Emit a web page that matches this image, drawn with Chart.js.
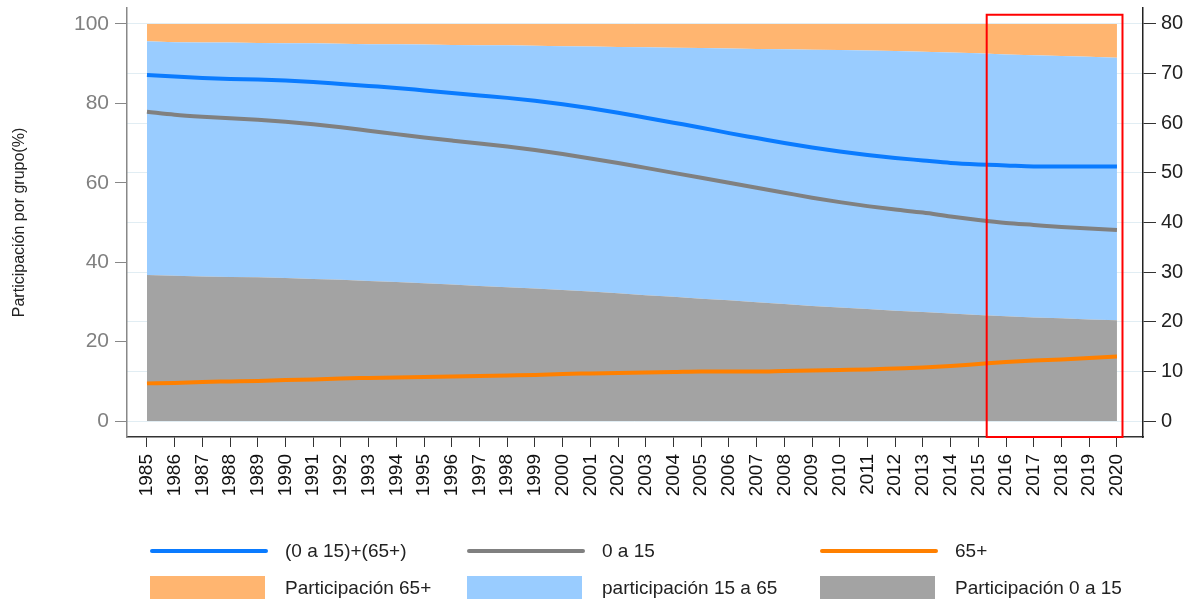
<!DOCTYPE html>
<html>
<head>
<meta charset="utf-8">
<script src="https://cdn.jsdelivr.net/npm/chart.js@4.4.1/dist/chart.umd.min.js"></script>
<style>
  html, body { margin: 0; padding: 0; background: #fff; }
  #wrap { position: relative; width: 1192px; height: 599px; overflow: hidden; font-family: "Liberation Sans", Arial, sans-serif; }
  #legend { position: absolute; left: 0; top: 0; width: 1192px; height: 599px; pointer-events: none; }
  .sw { position: absolute; }
  .lab { position: absolute; font-size: 19px; color: #222; white-space: nowrap; line-height: 22px; }
</style>
</head>
<body>
<div id="wrap">
  <canvas id="chart" width="1192" height="599"></canvas>
  <div id="legend"></div>
</div>
<script>
// years on the x axis
var years = [1985, 1986, 1987, 1988, 1989, 1990, 1991, 1992, 1993, 1994, 1995, 1996,
  1997, 1998, 1999, 2000, 2001, 2002, 2003, 2004, 2005, 2006, 2007, 2008,
  2009, 2010, 2011, 2012, 2013, 2014, 2015, 2016, 2017, 2018, 2019, 2020];

// shares of population (%), left axis, stacked areas
var share0a15 = [36.8, 36.6, 36.4, 36.3, 36.2, 36.0, 35.8, 35.6, 35.3, 35.0, 34.7, 34.4,
  34.0, 33.7, 33.4, 33.0, 32.6, 32.2, 31.7, 31.3, 30.8, 30.4, 29.9, 29.5,
  29.0, 28.6, 28.2, 27.8, 27.5, 27.1, 26.7, 26.4, 26.1, 25.9, 25.6, 25.4];
var share15a65 = [58.8, 58.8, 58.9, 59.0, 59.0, 59.1, 59.3, 59.4, 59.6, 59.9, 60.1, 60.3,
  60.6, 60.9, 61.1, 61.4, 61.7, 62.0, 62.4, 62.7, 63.1, 63.4, 63.8, 64.1,
  64.5, 64.8, 65.1, 65.4, 65.5, 65.7, 65.9, 65.9, 66.0, 66.0, 66.1, 66.1];
var share65 = [4.4, 4.6, 4.7, 4.7, 4.8, 4.9, 4.9, 5.0, 5.1, 5.1, 5.2, 5.3,
  5.4, 5.4, 5.5, 5.6, 5.7, 5.8, 5.9, 6.0, 6.1, 6.2, 6.3, 6.4,
  6.5, 6.6, 6.7, 6.8, 7.0, 7.2, 7.4, 7.7, 7.9, 8.1, 8.3, 8.5];

// dependency ratios, right axis
var depTotal = [69.7, 69.4, 69.1, 68.9, 68.8, 68.6, 68.3, 67.9, 67.5, 67.1, 66.6, 66.1,
  65.6, 65.1, 64.5, 63.8, 63.0, 62.1, 61.1, 60.1, 59.1, 58.0, 57.0, 56.0,
  55.1, 54.3, 53.6, 53.0, 52.5, 52.0, 51.7, 51.5, 51.3, 51.3, 51.3, 51.3];
var dep0a15 = [62.3, 61.7, 61.3, 61.0, 60.7, 60.3, 59.8, 59.2, 58.5, 57.8, 57.1, 56.5,
  55.9, 55.3, 54.6, 53.8, 52.9, 52.0, 51.0, 50.0, 49.0, 48.0, 47.0, 46.0,
  45.0, 44.1, 43.3, 42.6, 42.0, 41.2, 40.5, 39.9, 39.5, 39.1, 38.8, 38.5];
var dep65 = [7.6, 7.7, 7.9, 8.0, 8.1, 8.3, 8.4, 8.6, 8.7, 8.8, 8.9, 9.0,
  9.1, 9.2, 9.3, 9.5, 9.6, 9.7, 9.8, 9.9, 10.0, 10.0, 10.0, 10.1,
  10.2, 10.3, 10.4, 10.6, 10.8, 11.1, 11.5, 11.9, 12.2, 12.4, 12.7, 13.0];

var leftTicks = [0, 20, 40, 60, 80, 100];
var rightTicks = [0, 10, 20, 30, 40, 50, 60, 70, 80];

// highlighted period (red box)
var highlightFrom = 2015.3;
var highlightTo = 2020.2;
var highlightTop = 102.3;

var lineNames = ["(0 a 15)+(65+)", "0 a 15", "65+"];
var lineColors = ["#0a7bff", "#808080", "#ff8000"];
var areaNames = ["Participación 65+", "participación 15 a 65", "Participación 0 a 15"];
var areaColors = ["#ffb570", "#99ccff", "#a3a3a3"];

function pts(arr) {
  return arr.map(function (v, i) { return { x: years[i], y: v }; });
}

function areaSet(label, data, color, fill) {
  return {
    type: "line", label: label, data: pts(data), yAxisID: "y", stack: "shares",
    backgroundColor: color, borderColor: color, borderWidth: 0,
    pointRadius: 0, fill: fill, order: 2, tension: 0
  };
}

function lineSet(label, data, color) {
  return {
    type: "line", label: label, data: pts(data), yAxisID: "y1",
    borderColor: color, backgroundColor: color, borderWidth: 4,
    pointRadius: 0, fill: false, order: 0, cubicInterpolationMode: "monotone"
  };
}

var redBox = {
  id: "redBox",
  afterDatasetsDraw: function (chart) {
    var c = chart.ctx, sx = chart.scales.x, sy = chart.scales.y;
    var l = sx.getPixelForValue(highlightFrom), r = sx.getPixelForValue(highlightTo);
    var t = sy.getPixelForValue(highlightTop), b = chart.chartArea.bottom;
    c.save();
    c.strokeStyle = "#ff0000";
    c.lineWidth = 2;
    c.strokeRect(l, t, r - l, b - t);
    c.restore();
  }
};

var font = "'Liberation Sans', Arial, sans-serif";

new Chart(document.getElementById("chart"), {
  type: "line",
  data: {
    datasets: [
      areaSet(areaNames[2], share0a15, areaColors[2], "origin"),
      areaSet(areaNames[1], share15a65, areaColors[1], "-1"),
      areaSet(areaNames[0], share65, areaColors[0], "-1"),
      lineSet(lineNames[0], depTotal, lineColors[0]),
      lineSet(lineNames[1], dep0a15, lineColors[1]),
      lineSet(lineNames[2], dep65, lineColors[2])
    ]
  },
  options: {
    responsive: false,
    animation: false,
    layout: { padding: { top: 8, left: 0, right: 0, bottom: 0 } },
    plugins: { legend: { display: false }, tooltip: { enabled: false } },
    scales: {
      x: {
        type: "linear", min: 1984.28, max: 2020.94,
        afterBuildTicks: function (s) { s.ticks = years.map(function (v) { return { value: v }; }); },
        afterFit: function (s) { s.height = 162; s.paddingLeft = 0; s.paddingRight = 0; },
        grid: { drawOnChartArea: false, color: "#333", tickLength: 10 },
        border: { color: "#333", width: 1.5 },
        ticks: {
          autoSkip: false, maxRotation: 90, minRotation: 90, padding: 7,
          color: "#111", font: { family: font, size: 19 },
          callback: function (v) { return String(v); }
        }
      },
      y: {
        position: "left", stacked: true, min: -4, max: 104,
        afterBuildTicks: function (s) { s.ticks = leftTicks.map(function (v) { return { value: v }; }); },
        afterFit: function (s) { s.width = 127; s.paddingTop = 0; s.paddingBottom = 0; },
        grid: { drawOnChartArea: false, color: "#888", tickLength: 12 },
        border: { color: "#888", width: 1.5 },
        ticks: { color: "#808080", padding: 6, font: { family: font, size: 21 } },
        title: {
          display: true, text: "Participación por grupo(%)", color: "#222",
          font: { family: font, size: 16 }, padding: { top: 10, bottom: 0 }
        }
      },
      y1: {
        position: "right", min: -3.2, max: 83.2,
        afterBuildTicks: function (s) { s.ticks = rightTicks.map(function (v) { return { value: v }; }); },
        afterFit: function (s) { s.width = 49; s.paddingTop = 0; s.paddingBottom = 0; },
        grid: { drawOnChartArea: true, color: "rgba(205,225,235,0.6)", tickColor: "#333", tickLength: 13 },
        border: { color: "#222", width: 1.5 },
        ticks: { color: "#222", padding: 5, font: { family: font, size: 20 } }
      }
    }
  },
  plugins: [redBox]
});

// legend below the plot
var legend = document.getElementById("legend");
var cols = [150, 467, 820];
function addItem(x, name, color, isLine) {
  var sw = document.createElement("div");
  sw.className = "sw";
  sw.style.left = x + "px";
  sw.style.background = color;
  if (isLine) {
    sw.style.top = "549px"; sw.style.width = "118px"; sw.style.height = "4px"; sw.style.borderRadius = "2px";
  } else {
    sw.style.top = "576px"; sw.style.width = "115px"; sw.style.height = "24px";
  }
  legend.appendChild(sw);
  var lb = document.createElement("div");
  lb.className = "lab";
  lb.textContent = name;
  lb.style.left = (x + 135) + "px";
  lb.style.top = isLine ? "540px" : "577px";
  legend.appendChild(lb);
}
lineNames.forEach(function (n, i) { addItem(cols[i], n, lineColors[i], true); });
areaNames.forEach(function (n, i) { addItem(cols[i], n, areaColors[i], false); });
</script>
</body>
</html>
